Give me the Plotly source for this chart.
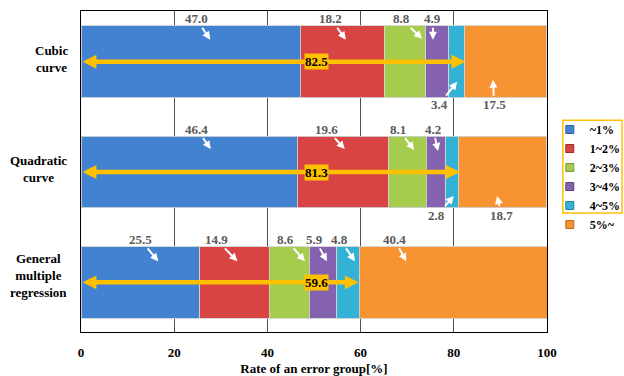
import plotly.graph_objects as go

# ---- data -------------------------------------------------------------
categories = ["Cubic<br>curve", "Quadratic<br>curve", "General<br>multiple<br>regression"]
groups = ["~1%", "1~2%", "2~3%", "3~4%", "4~5%", "5%~"]

share_lt1 = [47.0, 46.4, 25.5]
share_1_2 = [18.2, 19.6, 14.9]
share_2_3 = [8.8, 8.1, 8.6]
share_3_4 = [4.9, 4.2, 5.9]
share_4_5 = [3.4, 2.8, 4.8]
share_gt5 = [17.5, 18.7, 40.4]

within_5pct = [82.5, 81.3, 59.6]   # cumulative share of errors below 5%
x_ticks = [0, 20, 40, 60, 80, 100]

series = [share_lt1, share_1_2, share_2_3, share_3_4, share_4_5, share_gt5]

# ---- styling ----------------------------------------------------------
colors = ["#4382D0", "#D84343", "#A6CC4E", "#8462B0", "#33B2D6", "#F79431"]
edge_colors = ["#2E5E9C", "#9E2C2C", "#7A9A34", "#5E4482", "#23849E", "#B86A1E"]
serif = "Liberation Serif, Times New Roman, serif"
value_grey = "#595959"
gold = "#FFC000"

# callout placement per bar segment: (fraction along segment, text dx, text dy, head shift up)
callouts = [
    [(0.59, -14, -21, 22), (0.54, -15, -21, 22), (0.91, -21, -20, 23),
     (0.31, 0, -21, 22), (0.53, -18, 23, -20), (0.35, 1, 25, -18)],
    [(0.60, -14, -20, 23), (0.52, -18, -20, 23), (0.68, -16, -21, 22),
     (0.60, -5, -22, 21), (0.61, -17, 19, -24), (0.44, 4, 19, -24)],
    [(0.65, -18, -22, 21), (0.54, -21, -22, 21), (0.89, -19, -22, 21),
     (0.64, -12, -22, 21), (0.81, -15, -22, 21), (0.25, -12, -22, 21)],
]
label_x = [-0.064, -0.092, -0.092]
label_shift = [3, 3, 7]

fig = go.Figure()

for name, vals, col in zip(groups, series, colors):
    fig.add_trace(go.Bar(
        y=categories, x=vals, orientation="h", name=name,
        marker=dict(color=col, line=dict(color="rgba(210,210,210,0.9)", width=1)),
        showlegend=False, hoverinfo="x+name",
    ))

# small square legend keys
for name, col, ec in zip(groups, colors, edge_colors):
    fig.add_trace(go.Scatter(
        x=[None], y=[None], mode="markers", name=f"<b>{name}</b>",
        marker=dict(symbol="square", size=8, color=col, line=dict(color=ec, width=1)),
        showlegend=True,
    ))

annotations = []
for ci, cat in enumerate(categories):
    start = 0.0
    for si, vals in enumerate(series):
        v = vals[ci]
        frac, dx, dy, up = callouts[ci][si]
        annotations.append(dict(
            x=start + frac * v, y=ci, xref="x", yref="y",
            text=f"<b>{v:.1f}</b>", showarrow=True,
            arrowhead=2, arrowsize=0.8, arrowwidth=2, arrowcolor="white",
            ax=dx, ay=dy, yshift=up,
            font=dict(family=serif, size=13, color=value_grey),
        ))
        start += v

    # double-headed arrow spanning the share below 5%
    annotations.append(dict(
        x=within_5pct[ci], y=ci, ax=0, ay=ci, xref="x", yref="y",
        axref="x", ayref="y", text="", showarrow=True,
        arrowhead=2, startarrowhead=2, arrowside="end+start",
        arrowsize=0.62, startarrowsize=0.62, arrowwidth=4.5, arrowcolor=gold,
    ))
    annotations.append(dict(
        x=50.5, y=ci, xref="x", yref="y", text=f"<b>{within_5pct[ci]:.1f}</b>",
        showarrow=False, bgcolor=gold, borderpad=0,
        font=dict(family=serif, size=13, color="black"),
    ))

    # category label
    annotations.append(dict(
        x=label_x[ci], y=ci, xref="paper", yref="y", text=f"<b>{cat}</b>",
        showarrow=False, xanchor="center", align="center", yshift=label_shift[ci],
        font=dict(family=serif, size=13, color="black"),
    ))

fig.update_layout(
    width=624, height=376,
    margin=dict(l=81, r=77, t=11, b=44, autoexpand=False),
    barmode="stack", bargap=0.35,
    paper_bgcolor="white", plot_bgcolor="white",
    font=dict(family=serif, size=13, color="black"),
    annotations=annotations,
    showlegend=True,
    legend=dict(
        x=1.006, y=0.676, xanchor="left", yanchor="top",
        traceorder="normal", bgcolor="rgba(0,0,0,0)",
        font=dict(family=serif, size=12, color="black"),
        itemclick=False, tracegroupgap=0,
    ),
    shapes=[dict(
        type="rect", xref="paper", yref="paper",
        x0=1.034, x1=1.161, y0=0.371, y1=0.66,
        line=dict(color=gold, width=1.5), fillcolor="rgba(0,0,0,0)",
    )],
)

fig.update_xaxes(
    range=[0, 100], tickvals=x_ticks, ticktext=[f"<b>{t}</b>" for t in x_ticks],
    showgrid=True, gridcolor="#505050", gridwidth=1, zeroline=False,
    showline=True, linecolor="black", linewidth=1, mirror=True,
    ticks="", ticklabelstandoff=8,
    title=dict(text="<b>Rate of an error group[%]</b>", standoff=6,
               font=dict(family=serif, size=13, color="black")),
    automargin=False,
)
fig.update_yaxes(
    categoryorder="array", categoryarray=categories, range=[2.45, -0.46],
    showticklabels=False, showgrid=False, zeroline=False,
    showline=True, linecolor="black", linewidth=1, mirror=True,
    automargin=False,
)

fig.write_html("out.html")
